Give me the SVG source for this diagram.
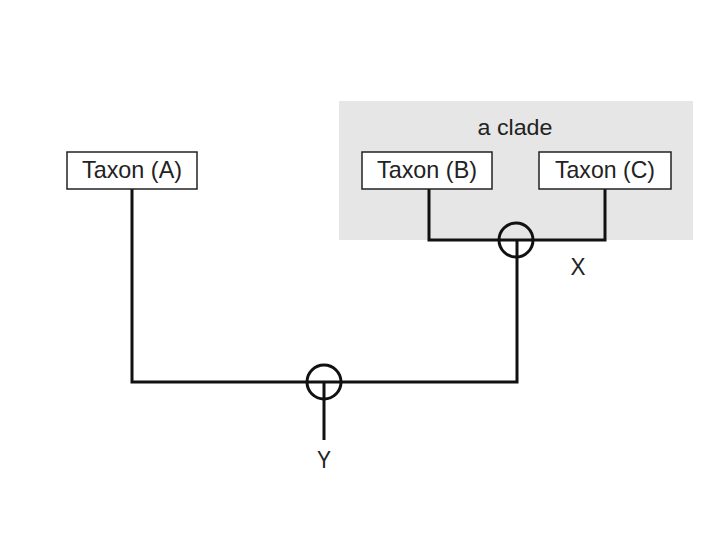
<svg xmlns="http://www.w3.org/2000/svg" width="720" height="540" viewBox="0 0 720 540">
<style>
.box{fill:#fff;stroke:#222;stroke-width:1.5}
.t{font-family:"Liberation Sans",Arial,sans-serif;font-size:24px;fill:#222;text-anchor:middle}
.ln{fill:none;stroke:#111;stroke-width:3}
</style>
<rect width="720" height="540" fill="#fff"/>
<g id="clade">
<rect x="339" y="101" width="354" height="139" fill="#e6e6e6"/>
<text class="t" x="515" y="135" style="font-size:22px" textLength="75" lengthAdjust="spacingAndGlyphs">a clade</text>
</g>
<g id="connectors">
<polyline class="ln" points="429,189 429,240 605,240 605,189"/>
<polyline class="ln" points="132,189 132,382 517,382 517,240"/>
<line class="ln" x1="324" y1="382" x2="324" y2="440"/>
<circle class="ln" cx="516" cy="240" r="17"/>
<circle class="ln" cx="324" cy="382" r="17"/>
</g>
<g id="taxonA">
<rect class="box" x="67" y="152" width="130" height="37"/>
<text class="t" x="132" y="178" textLength="100" lengthAdjust="spacingAndGlyphs">Taxon (A)</text>
</g>
<g id="taxonB">
<rect class="box" x="362" y="152" width="130" height="37"/>
<text class="t" x="427" y="178" textLength="100" lengthAdjust="spacingAndGlyphs">Taxon (B)</text>
</g>
<g id="taxonC">
<rect class="box" x="539" y="152" width="132" height="37"/>
<text class="t" x="605" y="178" textLength="100" lengthAdjust="spacingAndGlyphs">Taxon (C)</text>
</g>
<g id="X"><text class="t" x="578" y="275" textLength="15" lengthAdjust="spacingAndGlyphs">X</text></g>
<g id="Y"><text class="t" x="324" y="468" textLength="14" lengthAdjust="spacingAndGlyphs">Y</text></g>
</svg>
